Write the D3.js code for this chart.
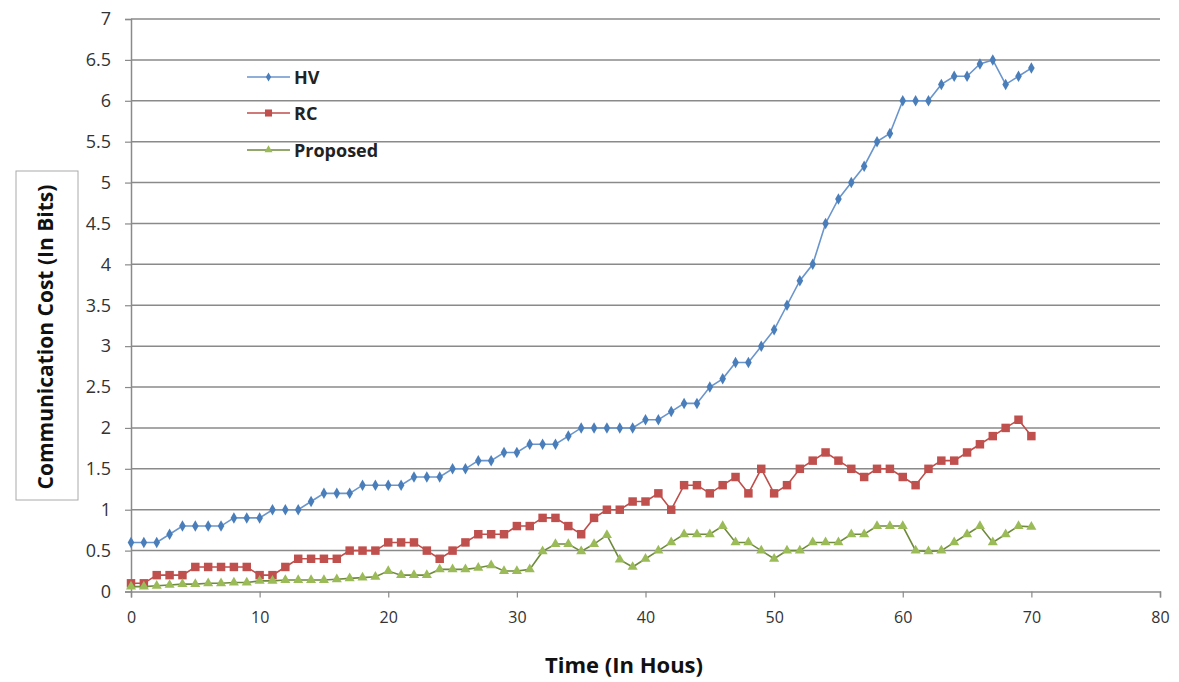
<!DOCTYPE html>
<html>
<head>
<meta charset="utf-8">
<script src="https://cdn.jsdelivr.net/npm/d3@7"></script>
<style>
  html, body { margin: 0; padding: 0; background: #fff; }
  svg { display: block; font-family: "Open Sans", Lato, sans-serif; }
</style>
</head>
<body>
<svg id="chart" width="1179" height="682"></svg>
<script>
// ---- Data ----
const hours = d3.range(0, 71);
const hvValues = [0.6,0.6,0.6,0.7,0.8,0.8,0.8,0.8,0.9,0.9,
                  0.9,1.0,1.0,1.0,1.1,1.2,1.2,1.2,1.3,1.3,
                  1.3,1.3,1.4,1.4,1.4,1.5,1.5,1.6,1.6,1.7,
                  1.7,1.8,1.8,1.8,1.9,2.0,2.0,2.0,2.0,2.0,
                  2.1,2.1,2.2,2.3,2.3,2.5,2.6,2.8,2.8,3.0,
                  3.2,3.5,3.8,4.0,4.5,4.8,5.0,5.2,5.5,5.6,
                  6.0,6.0,6.0,6.2,6.3,6.3,6.45,6.5,6.2,6.3,
                  6.4];
const rcValues = [0.1,0.1,0.2,0.2,0.2,0.3,0.3,0.3,0.3,0.3,
                  0.2,0.2,0.3,0.4,0.4,0.4,0.4,0.5,0.5,0.5,
                  0.6,0.6,0.6,0.5,0.4,0.5,0.6,0.7,0.7,0.7,
                  0.8,0.8,0.9,0.9,0.8,0.7,0.9,1.0,1.0,1.1,
                  1.1,1.2,1.0,1.3,1.3,1.2,1.3,1.4,1.2,1.5,
                  1.2,1.3,1.5,1.6,1.7,1.6,1.5,1.4,1.5,1.5,
                  1.4,1.3,1.5,1.6,1.6,1.7,1.8,1.9,2.0,2.1,
                  1.9];
const proposedValues = [0.06,0.06,0.07,0.08,0.09,0.09,0.1,0.1,0.11,0.11,
                  0.13,0.13,0.14,0.14,0.14,0.14,0.15,0.16,0.17,0.18,
                  0.25,0.2,0.2,0.2,0.27,0.27,0.27,0.29,0.32,0.25,
                  0.25,0.27,0.49,0.58,0.58,0.49,0.58,0.69,0.39,0.3,
                  0.4,0.5,0.6,0.7,0.7,0.7,0.8,0.6,0.6,0.5,
                  0.4,0.5,0.5,0.6,0.6,0.6,0.7,0.7,0.8,0.8,
                  0.8,0.5,0.49,0.5,0.6,0.7,0.8,0.6,0.7,0.8,
                  0.79];
const seriesNames = ["HV", "RC", "Proposed"];
const xTicks = [0,10,20,30,40,50,60,70,80];
const yTicks = [0,0.5,1,1.5,2,2.5,3,3.5,4,4.5,5,5.5,6,6.5,7];
const xTitle = "Time (In Hous)";
const yTitle = "Communication Cost (In Bits)";

// ---- Layout ----
const svg = d3.select("#chart");
const plotLeft = 131, plotRight = 1160, plotTop = 19, plotBottom = 591.5;
const x = d3.scaleLinear().domain([0, 80]).range([plotLeft, plotRight]);
const y = d3.scaleLinear().domain([0, 7]).range([plotBottom, plotTop]);

// gridlines
svg.append("g").selectAll("line").data(yTicks.filter(v => v > 0)).join("line")
  .attr("x1", plotLeft).attr("x2", plotRight)
  .attr("y1", d => y(d)).attr("y2", d => y(d))
  .attr("stroke", "#8a8a8a").attr("stroke-width", 1.5);

// y axis
const yAxis = d3.axisLeft(y).tickValues(yTicks).tickSize(6).tickPadding(14)
  .tickFormat(d => d3.format("")(d));
const gy = svg.append("g").attr("transform", `translate(${plotLeft},0)`).call(yAxis);
gy.select(".domain").attr("stroke", "#8a8a8a").attr("stroke-width", 1.5);
gy.selectAll(".tick line").attr("stroke", "#8a8a8a").attr("stroke-width", 1.2);
gy.selectAll(".tick text").attr("font-size", 18).attr("fill", "#333")
  .attr("font-family", "'Open Sans', sans-serif");

// x axis
const xAxis = d3.axisBottom(x).tickValues(xTicks).tickSize(6).tickPadding(14)
  .tickFormat(d3.format("d"));
const gx = svg.append("g").attr("transform", `translate(0,${plotBottom})`).call(xAxis);
gx.select(".domain").attr("stroke", "#8a8a8a").attr("stroke-width", 1.5);
gx.selectAll(".tick line").attr("stroke", "#8a8a8a").attr("stroke-width", 1.2);
gx.selectAll(".tick text").attr("font-size", 16).attr("fill", "#333")
  .attr("font-family", "'Open Sans', sans-serif");

// axis titles
svg.append("rect").attr("x", 16).attr("y", 171).attr("width", 62).attr("height", 329)
  .attr("fill", "#fff").attr("stroke", "#aaa").attr("stroke-width", 1);
svg.append("text").attr("transform", "translate(53,337) rotate(-90)")
  .attr("text-anchor", "middle").attr("font-size", 21).attr("font-weight", "bold")
  .attr("fill", "#111").text(yTitle);
svg.append("text").attr("x", 624).attr("y", 673)
  .attr("text-anchor", "middle").attr("font-size", 22).attr("font-weight", "bold")
  .attr("fill", "#111").text(xTitle);

// series
const series = [
  {name: seriesNames[0], values: hvValues, line: "#6a95cc", fill: "#4a7ebb", sym: d3.symbolDiamond, size: 38},
  {name: seriesNames[1], values: rcValues, line: "#bf4e4b", fill: "#c0504d", sym: d3.symbolSquare, size: 72},
  {name: seriesNames[2], values: proposedValues, line: "#6f8a3c", fill: "#9bbb59", sym: d3.symbolTriangle, size: 44}
];
const lineGen = d3.line().x((d, i) => x(hours[i])).y(d => y(d));
series.forEach(s => {
  const g = svg.append("g");
  g.append("path").datum(s.values).attr("d", lineGen)
    .attr("fill", "none").attr("stroke", s.line).attr("stroke-width", 1.6);
  g.selectAll("path.m").data(s.values).join("path").attr("class", "m")
    .attr("transform", (d, i) => `translate(${x(hours[i])},${y(d)})`)
    .attr("d", d3.symbol().type(s.sym).size(s.size))
    .attr("fill", s.fill);
});

// legend
const legY = [77, 113, 150];
const legendSizes = [24, 50, 28];
series.forEach((s, i) => {
  const g = svg.append("g").attr("transform", `translate(247,${legY[i]})`);
  g.append("line").attr("x1", 0).attr("x2", 43).attr("stroke", s.line).attr("stroke-width", 1.6);
  g.append("path").attr("transform", "translate(21.5,0)")
    .attr("d", d3.symbol().type(s.sym).size(legendSizes[i])).attr("fill", s.fill);
  g.append("text").attr("x", 47).attr("y", 6.5).attr("font-size", 18)
    .attr("font-weight", "bold").attr("fill", "#222").text(s.name);
});
</script>
</body>
</html>
